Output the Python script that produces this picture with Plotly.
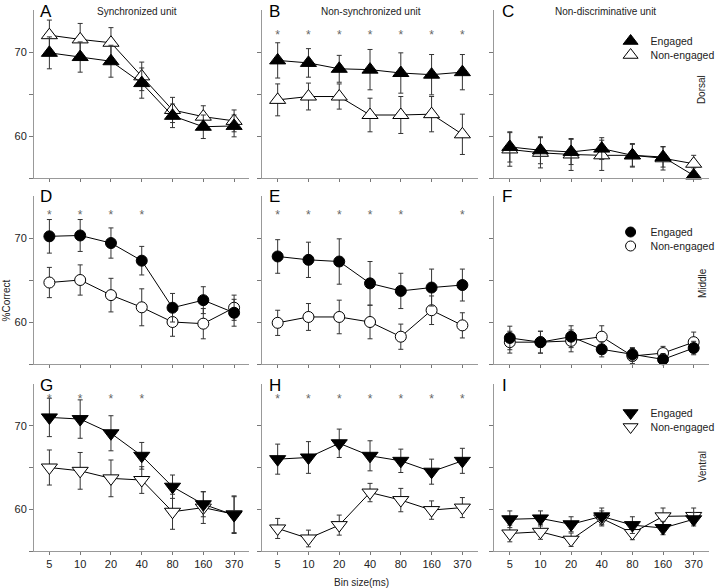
import plotly.graph_objects as go

bins = ["5", "10", "20", "40", "80", "160", "370"]

A_eng = [69.9, 69.4, 68.9, 66.3, 62.4, 61.1, 61.2]
A_eng_err = [1.9, 1.8, 1.9, 1.8, 1.4, 1.4, 1.3]
A_non = [72.0, 71.5, 71.1, 67.1, 63.1, 62.3, 61.8]
A_non_err = [1.8, 1.9, 1.8, 1.7, 1.5, 1.3, 1.3]

B_eng = [69.0, 68.7, 68.0, 67.9, 67.5, 67.3, 67.6]
B_eng_err = [2.1, 1.7, 1.6, 2.4, 2.4, 2.4, 2.1]
B_non = [64.3, 64.7, 64.7, 62.5, 62.5, 62.6, 60.2]
B_non_err = [1.9, 1.6, 1.5, 2.0, 2.2, 2.1, 2.4]

C_eng = [58.7, 58.3, 58.1, 58.5, 57.7, 57.5, 55.3]
C_eng_err = [1.8, 1.6, 1.5, 1.3, 1.3, 1.2, 0.9]
C_non = [58.4, 58.0, 57.8, 57.7, 57.7, 57.35, 56.7]
C_non_err = [2.0, 1.8, 1.9, 1.8, 1.4, 1.4, 1.0]

D_eng = [70.2, 70.3, 69.4, 67.3, 61.7, 62.6, 61.1]
D_eng_err = [2.0, 1.9, 1.8, 1.7, 1.7, 1.6, 1.6]
D_non = [64.7, 65.0, 63.2, 61.75, 60.0, 59.8, 61.7]
D_non_err = [1.8, 1.8, 2.0, 2.2, 1.7, 1.8, 1.5]

E_eng = [67.8, 67.4, 67.2, 64.6, 63.7, 64.1, 64.4]
E_eng_err = [2.0, 2.1, 2.7, 2.6, 2.1, 2.2, 1.9]
E_non = [59.9, 60.6, 60.6, 60.0, 58.25, 61.4, 59.6]
E_non_err = [1.5, 1.6, 2.0, 2.0, 1.5, 1.7, 1.5]

F_eng = [58.1, 57.6, 58.25, 56.75, 56.15, 55.55, 56.9]
F_eng_err = [1.4, 1.3, 1.3, 0.9, 0.8, 0.7, 0.8]
F_non = [57.6, 57.6, 57.75, 58.25, 55.95, 56.3, 57.6]
F_non_err = [1.3, 1.3, 1.3, 1.3, 0.9, 0.8, 1.2]

G_eng = [71.0, 70.8, 69.1, 66.4, 62.7, 60.6, 59.3]
G_eng_err = [2.3, 2.3, 2.1, 1.6, 1.4, 1.5, 2.2]
G_non = [65.0, 64.6, 63.7, 63.5, 59.7, 60.2, 59.4]
G_non_err = [2.1, 2.2, 2.2, 1.6, 2.1, 1.9, 2.2]

H_eng = [66.0, 66.2, 67.9, 66.4, 65.8, 64.5, 65.8]
H_eng_err = [1.8, 1.9, 1.7, 1.8, 1.4, 1.5, 1.5]
H_non = [57.7, 56.5, 58.1, 62.0, 61.1, 59.9, 60.2]
H_non_err = [1.2, 1.0, 1.2, 1.1, 1.4, 1.1, 1.2]

I_eng = [58.8, 58.9, 58.2, 59.15, 58.1, 57.75, 58.8]
I_eng_err = [1.0, 0.9, 0.9, 1.0, 1.0, 0.8, 0.8]
I_non = [57.1, 57.3, 56.35, 58.9, 57.15, 59.15, 59.2]
I_non_err = [1.0, 0.9, 0.8, 0.9, 0.8, 1.0, 0.95]

# significant bins (asterisks)
B_sig = ["5", "10", "20", "40", "80", "160", "370"]
D_sig = ["5", "10", "20", "40"]
E_sig = ["5", "10", "20", "40", "80", "370"]
G_sig = ["5", "10", "20", "40"]
H_sig = ["5", "10", "20", "40", "80", "160", "370"]

panel_letters = ["A", "B", "C", "D", "E", "F", "G", "H", "I"]
col_titles = ["Synchronized unit", "Non-synchronized unit", "Non-discriminative unit"]
row_labels = ["Dorsal", "Middle", "Ventral"]
legend_names = ["Engaged", "Non-engaged"]
y_label = "%Correct"
x_label = "Bin size(ms)"

W, H = 720, 588
ML, MR, MT, MB = 34, 0, 10, 37
PW, PH = W - ML - MR, H - MT - MB


def px(x):
    return (x - ML) / PW


def py(y):
    return 1 - (y - MT) / PH


col_px = [(34, 253), (266, 485), (502, 720)]
row_px = [(10, 178), (196, 364), (384, 551)]

FONT = "Arial, Liberation Sans, sans-serif"
fig = go.Figure()

panels = [
    (A_eng, A_eng_err, A_non, A_non_err, None),
    (B_eng, B_eng_err, B_non, B_non_err, B_sig),
    (C_eng, C_eng_err, C_non, C_non_err, None),
    (D_eng, D_eng_err, D_non, D_non_err, D_sig),
    (E_eng, E_eng_err, E_non, E_non_err, E_sig),
    (F_eng, F_eng_err, F_non, F_non_err, None),
    (G_eng, G_eng_err, G_non, G_non_err, G_sig),
    (H_eng, H_eng_err, H_non, H_non_err, H_sig),
    (I_eng, I_eng_err, I_non, I_non_err, None),
]
row_symbols = [("triangle-up", 14), ("circle", 11), ("triangle-down", 14)]
star_level = [71.9, 72.6, 73.1]

layout_axes = {}
for k, (eng, eng_err, non, non_err, sig) in enumerate(panels):
    r, c = divmod(k, 3)
    n = k + 1
    xa = "x" if n == 1 else f"x{n}"
    ya = "y" if n == 1 else f"y{n}"
    sym, msz = row_symbols[r]
    for vals, errs, fill in ((non, non_err, "white"), (eng, eng_err, "black")):
        fig.add_trace(go.Scatter(
            x=bins, y=vals, xaxis=xa, yaxis=ya, mode="lines+markers",
            line=dict(color="black", width=1),
            marker=dict(symbol=sym, size=msz, color=fill, line=dict(color="black", width=1)),
            error_y=dict(type="data", array=errs, visible=True, color="#333", thickness=1, width=2.5),
            cliponaxis=False, showlegend=False,
        ))
    if sig:
        fig.add_trace(go.Scatter(
            x=sig, y=[star_level[r]] * len(sig), xaxis=xa, yaxis=ya, mode="text",
            text=["*"] * len(sig), textfont=dict(family=FONT, size=12, color="#666"),
            cliponaxis=False, showlegend=False, hoverinfo="skip",
        ))
    x0, x1 = col_px[c]
    y0, y1 = row_px[r]
    layout_axes["xaxis" if n == 1 else f"xaxis{n}"] = dict(
        domain=[px(x0), px(x1)], anchor=ya, type="category", categoryorder="array",
        categoryarray=bins, range=[-0.5, 6.5], showline=True, linecolor="#999", linewidth=1,
        ticks="outside", ticklen=3, tickcolor="#777", showgrid=False, zeroline=False,
        showticklabels=(r == 2), tickfont=dict(family=FONT, size=11, color="#222"),
    )
    layout_axes["yaxis" if n == 1 else f"yaxis{n}"] = dict(
        domain=[py(y1), py(y0)], anchor=xa, range=[55, 75], showline=True, linecolor="#999",
        linewidth=1, ticks="outside", ticklen=4, tickcolor="#777", showgrid=False, zeroline=False,
        tickvals=[55, 60, 65, 70], ticktext=["", "60", "", "70"],
        showticklabels=(c == 0), tickfont=dict(family=FONT, size=11, color="#222"),
    )

# legends (one per entry for precise placement)
legend_rows = [41, 232, 413]
legend_cfg = {}
li = 1
for r in range(3):
    sym, msz = row_symbols[r]
    n = 3 * r + 3
    for j, (name, fill) in enumerate(zip(legend_names, ["black", "white"])):
        lname = "legend" if li == 1 else f"legend{li}"
        fig.add_trace(go.Scatter(
            x=[None], y=[None], xaxis=f"x{n}", yaxis=f"y{n}", mode="markers", name=name,
            marker=dict(symbol=sym, size=msz - 1, color=fill, line=dict(color="black", width=1)),
            legend=lname, showlegend=True,
        ))
        legend_cfg[lname] = dict(
            x=px(620), xanchor="left", y=py(legend_rows[r] + 14 * j), yanchor="middle",
            bgcolor="rgba(0,0,0,0)", font=dict(family=FONT, size=10.5, color="#222"),
            itemclick=False,
        )
        li += 1

ann = []
letter_x = [38, 271, 508]
for k, L in enumerate(panel_letters):
    r, c = divmod(k, 3)
    ann.append(dict(text=L, x=px(letter_x[c]), y=py(row_px[r][0] + 1), xref="paper", yref="paper",
                    xanchor="left", yanchor="middle", showarrow=False,
                    font=dict(family=FONT, size=17, color="black")))
title_cx = [139, 376, 615]
for c, t in enumerate(col_titles):
    ann.append(dict(text=t, x=px(title_cx[c]), y=py(11), xref="paper", yref="paper",
                    xanchor="center", yanchor="middle", showarrow=False,
                    font=dict(family=FONT, size=10, color="#222")))
row_label_y = [90, 283, 467]
for r, t in enumerate(row_labels):
    ann.append(dict(text=t, x=px(713), y=py(row_label_y[r]), xref="paper", yref="paper",
                    xanchor="center", yanchor="middle", showarrow=False, textangle=-90,
                    font=dict(family=FONT, size=10, color="#222")))
ann.append(dict(text=y_label, x=px(6), y=py(300), xref="paper", yref="paper",
                xanchor="center", yanchor="middle", showarrow=False, textangle=-90,
                font=dict(family=FONT, size=10, color="#222")))
ann.append(dict(text=x_label, x=px(367), y=py(582), xref="paper", yref="paper",
                xanchor="center", yanchor="middle", showarrow=False,
                font=dict(family=FONT, size=10, color="#222")))

fig.update_layout(
    width=W, height=H, margin=dict(l=ML, r=MR, t=MT, b=MB),
    paper_bgcolor="white", plot_bgcolor="white", annotations=ann,
    **layout_axes, **legend_cfg,
)
fig.write_html("out.html", config={"displayModeBar": False},
               post_script="document.body.style.margin='0';document.body.style.overflow='hidden';")
